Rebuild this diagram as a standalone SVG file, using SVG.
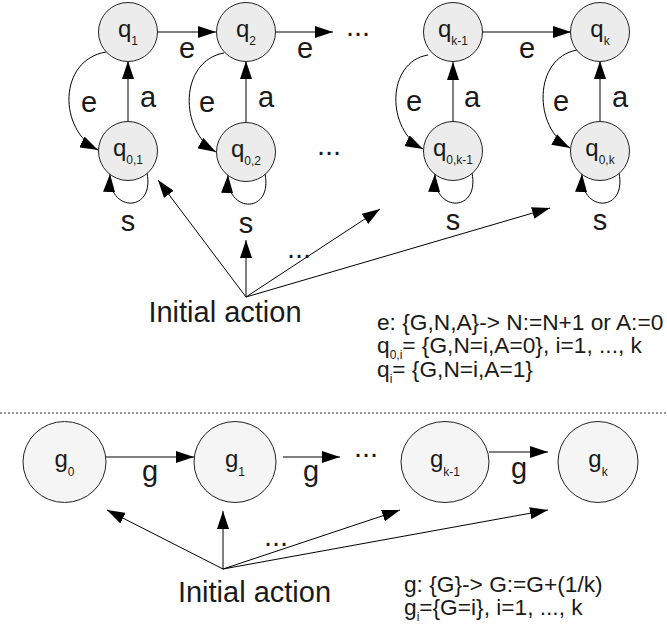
<svg xmlns="http://www.w3.org/2000/svg" width="667" height="630" viewBox="0 0 667 630">
<defs>
<marker id="ah" markerWidth="18" markerHeight="12" refX="18" refY="6" orient="auto" markerUnits="userSpaceOnUse"><path d="M0,0 L18,6 L0,12 z" fill="#000"/></marker>
<style>
text{font-family:"Liberation Sans",Arial,sans-serif;fill:#1a1a1a}
.n circle{fill:#ececec;stroke:#222;stroke-width:1}
.n ellipse{fill:#f5f5f5;stroke:#222;stroke-width:1}
.nl{font-size:24px;text-anchor:middle}
.sub{font-size:12px}
.el{font-size:29px;text-anchor:middle}
.big{font-size:29px;text-anchor:middle}
.lg{font-size:22.7px}
.lgs{font-size:12px}
#edges path,#edges line{fill:none;stroke:#000;stroke-width:1;marker-end:url(#ah)}
</style>
</defs>
<rect width="667" height="630" fill="#fff"/>

<g id="edges">
<line x1="157" y1="32" x2="216" y2="32"/>
<line x1="276" y1="32" x2="333" y2="32"/>
<line x1="482" y1="32" x2="571" y2="32"/>
<line x1="128" y1="122" x2="128" y2="61"/>
<line x1="246" y1="123" x2="246" y2="61"/>
<line x1="453" y1="122" x2="453" y2="62"/>
<line x1="600" y1="122" x2="600" y2="61"/>
<path d="M106,52 C58,60 58,130 98,150"/>
<path d="M224,53 C179,61 179,131 216,152"/>
<path d="M428,55 C386,62 386,130 423,149"/>
<path d="M577,50 C533,58 533,128 570,148"/>
<path d="M147,173 C155,213 108,213 110,174"/>
<path d="M265,174 C273,214 226,214 228,175"/>
<path d="M472,173 C480,213 433,213 435,174"/>
<path d="M619,173 C627,213 580,213 582,174"/>
<line x1="246" y1="297" x2="158" y2="180"/>
<line x1="246" y1="297" x2="246" y2="240"/>
<line x1="246" y1="297" x2="380" y2="209"/>
<line x1="246" y1="297" x2="550" y2="208"/>
<line x1="106" y1="457" x2="194" y2="457"/>
<line x1="283" y1="457" x2="340" y2="457"/>
<line x1="489" y1="452" x2="548" y2="452"/>
<line x1="223" y1="569" x2="107" y2="510"/>
<line x1="223" y1="569" x2="223" y2="511"/>
<line x1="223" y1="569" x2="400" y2="510"/>
<line x1="223" y1="569" x2="548" y2="510"/>
</g>

<g id="q1" class="n"><circle cx="128" cy="32" r="29.5"/><text class="nl" x="128" y="37">q<tspan class="sub" dy="8">1</tspan></text></g>
<g id="q2" class="n"><circle cx="246" cy="32" r="29.5"/><text class="nl" x="246" y="37">q<tspan class="sub" dy="8">2</tspan></text></g>
<g id="qk-1" class="n"><circle cx="453" cy="32" r="29.5"/><text class="nl" x="453" y="37">q<tspan class="sub" dy="8">k-1</tspan></text></g>
<g id="qk" class="n"><circle cx="600" cy="32" r="29.5"/><text class="nl" x="600" y="37">q<tspan class="sub" dy="8">k</tspan></text></g>
<g id="q01" class="n"><circle cx="128" cy="151" r="29.5"/><text class="nl" x="128" y="156">q<tspan class="sub" dy="8">0,1</tspan></text></g>
<g id="q02" class="n"><circle cx="246" cy="152" r="29.5"/><text class="nl" x="246" y="157">q<tspan class="sub" dy="8">0,2</tspan></text></g>
<g id="q0k-1" class="n"><circle cx="453" cy="151" r="29.5"/><text class="nl" x="453" y="156">q<tspan class="sub" dy="8">0,k-1</tspan></text></g>
<g id="q0k" class="n"><circle cx="600" cy="151" r="29.5"/><text class="nl" x="600" y="156">q<tspan class="sub" dy="8">0,k</tspan></text></g>

<g id="g0" class="n"><ellipse cx="64.5" cy="462" rx="41.5" ry="40.5"/><text class="nl" x="64.5" y="467">g<tspan class="sub" dy="9">0</tspan></text></g>
<g id="g1" class="n"><ellipse cx="235" cy="462" rx="41" ry="40.5"/><text class="nl" x="235" y="467">g<tspan class="sub" dy="9">1</tspan></text></g>
<g id="gk-1" class="n"><ellipse cx="445" cy="462" rx="44" ry="40.5"/><text class="nl" x="445" y="467">g<tspan class="sub" dy="9">k-1</tspan></text></g>
<g id="gk" class="n"><ellipse cx="598" cy="462" rx="40" ry="40.5"/><text class="nl" x="598" y="467">g<tspan class="sub" dy="9">k</tspan></text></g>

<g id="labels">
<text class="el" x="187" y="58">e</text>
<text class="el" x="305" y="58">e</text>
<text class="el" x="527" y="58">e</text>
<text class="el" x="89" y="112">e</text>
<text class="el" x="207" y="112">e</text>
<text class="el" x="414" y="111">e</text>
<text class="el" x="561" y="111">e</text>
<text class="el" x="148" y="107">a</text>
<text class="el" x="266" y="107">a</text>
<text class="el" x="472" y="107">a</text>
<text class="el" x="620" y="107">a</text>
<text class="el" x="128" y="231">s</text>
<text class="el" x="246" y="233">s</text>
<text class="el" x="453" y="230">s</text>
<text class="el" x="600" y="230">s</text>
<text class="el" x="358" y="36">...</text>
<text class="el" x="329" y="155">...</text>
<text class="el" x="299" y="258">...</text>
<text class="el" x="150" y="481">g</text>
<text class="el" x="311" y="481">g</text>
<text class="el" x="519" y="478">g</text>
<text class="el" x="366" y="457">...</text>
<text class="el" x="276" y="546">...</text>
<text class="big" x="225" y="322">Initial action</text>
<text class="big" x="254.5" y="602">Initial action</text>
<text class="lg" x="377" y="330">e: {G,N,A}-&gt; N:=N+1 or A:=0</text>
<text class="lg" x="377" y="353">q<tspan class="lgs" dy="6">0,i</tspan><tspan dy="-6">= {G,N=i,A=0}, i=1, ..., k</tspan></text>
<text class="lg" x="377" y="377">q<tspan class="lgs" dy="6">i</tspan><tspan dy="-6">= {G,N=i,A=1}</tspan></text>
<text class="lg" x="404" y="592">g: {G}-&gt; G:=G+(1/k)</text>
<text class="lg" x="404" y="615">g<tspan class="lgs" dy="6">i</tspan><tspan dy="-6">={G=i}, i=1, ..., k</tspan></text>
</g>

<line x1="0" y1="413" x2="667" y2="413" stroke="#333" stroke-width="1" stroke-dasharray="2,2"/>
</svg>
